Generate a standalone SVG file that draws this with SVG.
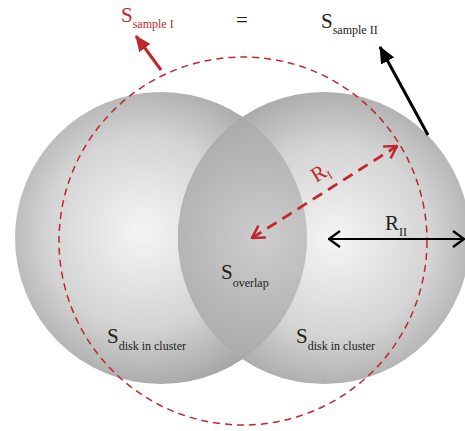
<svg xmlns="http://www.w3.org/2000/svg" width="465" height="431" viewBox="0 0 465 431">
<style>
text{font-family:"Liberation Serif","DejaVu Serif",serif;}
.big{font-size:21px;}
.sub{font-size:12px;}
.red{fill:#c1272d;}
.blk{fill:#231f20;}
</style>
<defs>
<radialGradient id="gL" cx="143" cy="232" r="160" gradientUnits="userSpaceOnUse">
<stop offset="0" stop-color="#f5f5f5"/><stop offset="0.6" stop-color="#d4d4d4"/><stop offset="1" stop-color="#a6a6a6"/>
</radialGradient>
<radialGradient id="gR" cx="335" cy="240" r="160" gradientUnits="userSpaceOnUse">
<stop offset="0" stop-color="#f5f5f5"/><stop offset="0.6" stop-color="#d4d4d4"/><stop offset="1" stop-color="#a6a6a6"/>
</radialGradient>
<radialGradient id="gO" cx="262" cy="238" r="125" gradientUnits="userSpaceOnUse">
<stop offset="0" stop-color="#cdcdcd"/><stop offset="1" stop-color="#a9a9a9"/>
</radialGradient>
<marker id="fr" markerWidth="16" markerHeight="14" refX="15" refY="7" orient="auto" markerUnits="userSpaceOnUse" viewBox="0 0 16 14">
<path d="M0,0 L16,7 L0,14 Z" fill="#c1272d"/>
</marker>
<marker id="fb" markerWidth="17" markerHeight="15" refX="16" refY="7.5" orient="auto" markerUnits="userSpaceOnUse" viewBox="0 0 17 15">
<path d="M0,0 L17,7.5 L0,15 Z" fill="#000"/>
</marker>
<marker id="or" markerWidth="16" markerHeight="16" refX="15" refY="8" orient="auto-start-reverse" markerUnits="userSpaceOnUse" viewBox="0 0 16 16">
<path d="M3,1 L15,8 L3,15" fill="none" stroke="#c1272d" stroke-width="2.5"/>
</marker>
<marker id="ob" markerWidth="16" markerHeight="18" refX="15" refY="9" orient="auto-start-reverse" markerUnits="userSpaceOnUse" viewBox="0 0 16 18">
<path d="M4,1 L15,9 L4,17" fill="none" stroke="#000" stroke-width="2.2"/>
</marker>
</defs>
<g id="disk-left"><circle cx="161" cy="238" r="146" fill="url(#gL)"/></g>
<g id="disk-right"><circle cx="324" cy="238" r="146" fill="url(#gR)"/></g>
<g id="overlap"><path d="M242.5,116.9 A146,146 0 0 0 242.5,359.1 A146,146 0 0 0 242.5,116.9 Z" fill="url(#gO)"/></g>
<g id="sample-circle"><circle cx="243" cy="241" r="184" fill="none" stroke="#c1272d" stroke-width="1.5" stroke-dasharray="7,5"/></g>
<g id="connectors">
<line x1="161" y1="70" x2="136" y2="36" stroke="#c1272d" stroke-width="3" marker-end="url(#fr)"/>
<line x1="428" y1="135" x2="380" y2="47" stroke="#000" stroke-width="3" marker-end="url(#fb)"/>
<line x1="252" y1="238" x2="397" y2="146" stroke="#c1272d" stroke-width="2.8" stroke-dasharray="11,7" marker-start="url(#or)" marker-end="url(#or)"/>
<line x1="329" y1="239" x2="464" y2="239" stroke="#000" stroke-width="2.2" marker-start="url(#ob)" marker-end="url(#ob)"/>
</g>
<g id="labels">
<text x="121" y="22" class="big red">S<tspan class="sub" dy="6">sample I</tspan></text>
<text x="236" y="27" class="big blk" font-size="18">=</text>
<text x="321" y="28" class="big blk">S<tspan class="sub" dy="6">sample II</tspan></text>
<text x="0" y="0" class="big red" transform="translate(316,183) rotate(-31)" font-size="19">R<tspan class="sub" dy="4">I</tspan></text>
<text x="385" y="230" class="big blk" font-size="19">R<tspan class="sub" dy="6">II</tspan></text>
<text x="221" y="279" class="big blk">S<tspan class="sub" dy="8">overlap</tspan></text>
<text x="107" y="343" class="big blk">S<tspan class="sub" dy="7">disk in cluster</tspan></text>
<text x="296" y="343" class="big blk">S<tspan class="sub" dy="7">disk in cluster</tspan></text>
</g>
</svg>
